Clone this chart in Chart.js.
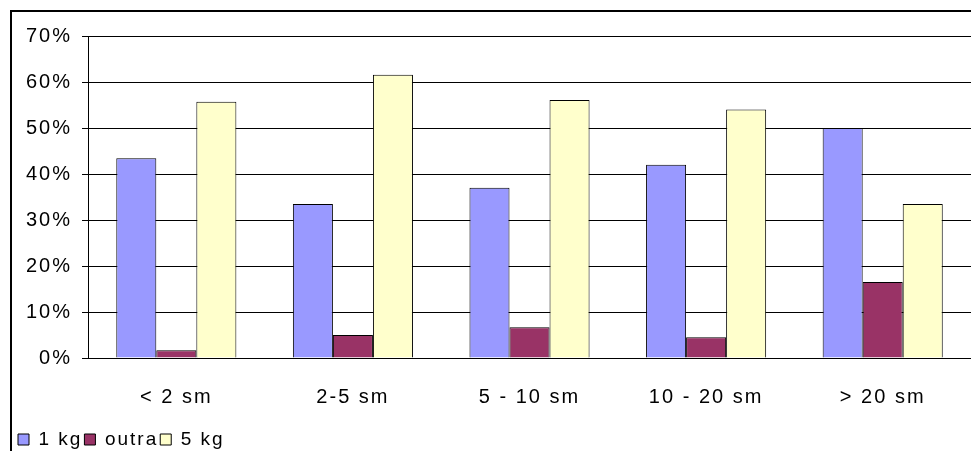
<!DOCTYPE html>
<html><head><meta charset="utf-8">
<script src="https://cdn.jsdelivr.net/npm/chart.js@4"></script>
<style>
body{margin:0;background:#fff}
#wrap{position:absolute;left:10px;top:10px;width:961px;height:441px;border-left:2px solid #000;border-top:2px solid #000;box-sizing:border-box}
</style></head><body>
<div id="wrap"><canvas id="c"></canvas></div>
<script>
const categories = ['< 2 sm', '2-5 sm', '5 - 10 sm', '10 - 20 sm', '> 20 sm'];
const kg1 = [43.4, 33.5, 37.0, 42.0, 50.0];
const outra = [1.7, 5.0, 6.7, 4.5, 16.5];
const kg5 = [55.7, 61.6, 56.1, 54.0, 33.5];

const ds = (label, data, color) => ({ label, data, backgroundColor: color, borderColor: '#000', borderWidth: 1 });

// spaced-out lettering like the original
const spacing = {
  id: 'spacing',
  beforeInit: c => { c.ctx.letterSpacing = '2px'; },
  beforeLayout: c => { c.ctx.letterSpacing = '2px'; },
  beforeDraw: c => { c.ctx.letterSpacing = '2px'; },
};

new Chart(document.getElementById('c'), {
  type: 'bar',
  data: {
    labels: categories,
    datasets: [ds('1 kg', kg1, '#9999FF'), ds('outra', outra, '#993366'), ds('5 kg', kg5, '#FFFFCC')],
  },
  plugins: [spacing],
  options: {
    responsive: true, maintainAspectRatio: false, animation: false,
    datasets: { bar: { categoryPercentage: 0.68, barPercentage: 1 } },
    layout: { padding: { left: 4, right: 0, top: 24, bottom: -8 } },
    scales: {
      x: {
        grid: { display: false },
        border: { color: '#000' },
        ticks: { color: '#000', font: { family: 'Liberation Sans', size: 20 }, padding: 19 },
      },
      y: {
        min: 0, max: 70,
        grid: { color: '#000', tickLength: 6 },
        border: { color: '#000' },
        ticks: { stepSize: 10, color: '#000', padding: 10, font: { family: 'Liberation Sans', size: 20 }, callback: v => v + '%' },
      },
    },
    plugins: {
      tooltip: { enabled: false },
      legend: {
        position: 'bottom', align: 'start',
        labels: { color: '#000', font: { family: 'Liberation Sans', size: 19 }, boxWidth: 11, boxHeight: 11, padding: 2 },
      },
    },
  },
});
</script></body></html>
